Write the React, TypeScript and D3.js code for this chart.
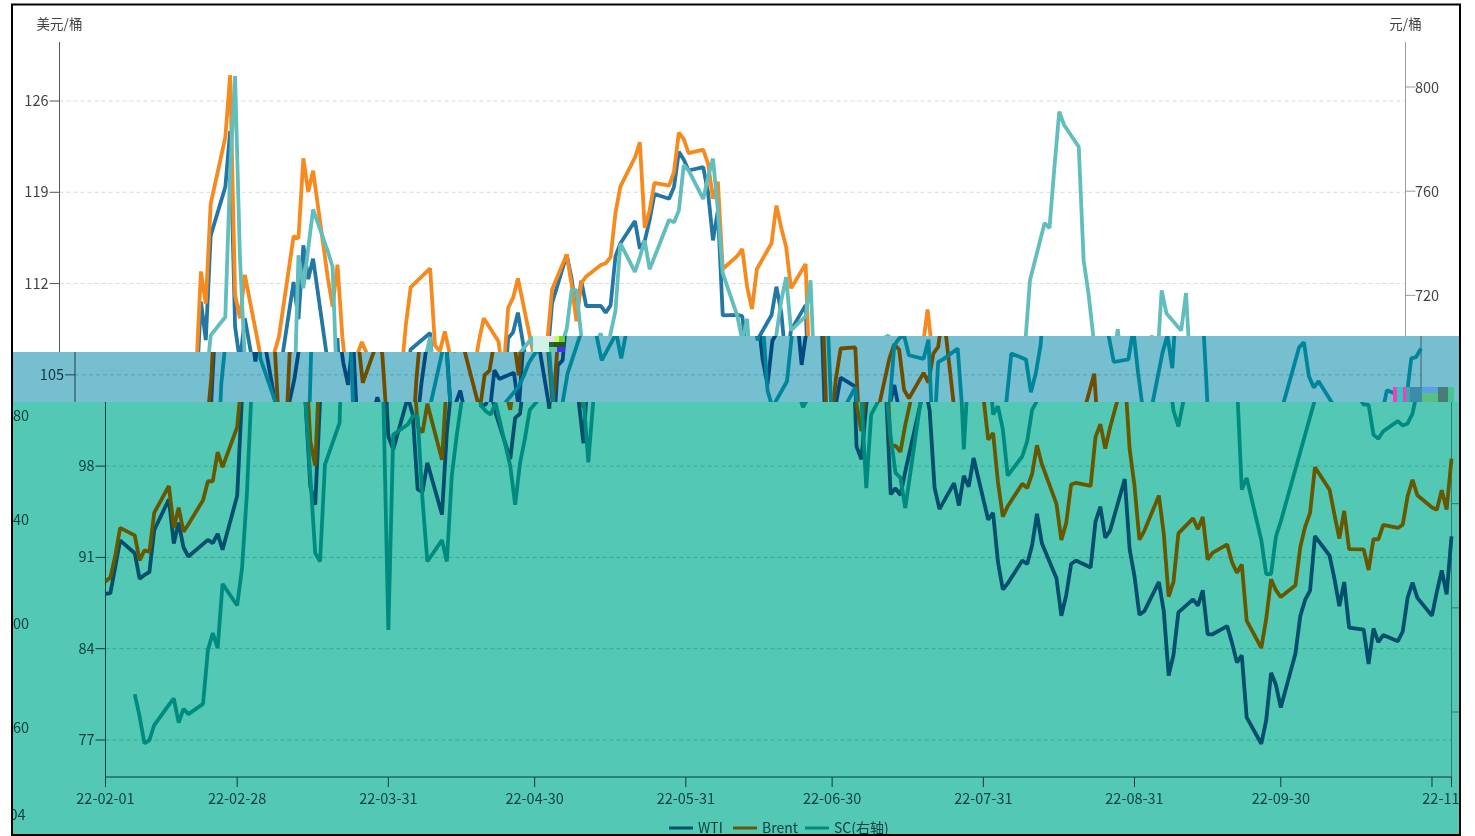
import React from "react";
import * as d3 from "d3";

// Weekday values, Feb 1 2022 - Nov 4 2022, grouped by month. null = no print that day.
const wtiFeb = [88.2,88.26,90.27,92.31, 91.32,89.36,89.66,89.88,93.1, 95.46,92.07,93.66,91.76,91.07, null,92.35,92.1,92.81,91.59, 95.72];
const wtiMar = [103.41,110.6,107.67,115.68, 119.4,123.7,108.7,106.02,109.33, 103.01,96.44,95.04,102.98,104.7, 112.12,109.27,114.93,112.34,113.9, 105.96,104.24,107.82,100.28];
const wtiApr = [99.27, 103.28,101.96,96.23,96.03,98.26, 94.29,100.6,104.25,106.95,null, 108.21,102.56,102.75,103.79,102.07, 98.54,101.7,102.02,105.36,104.69];
const wtiMay = [105.17,102.41,107.81,108.26,109.77, 103.09,99.76,105.71,106.13,110.49, 114.2,112.4,109.59,112.21,110.28, 110.29,109.77,110.33,114.09,115.07, 116.8,114.67];
const wtiJun = [115.26,116.87,118.87, 118.5,119.41,122.11,121.51,120.67, 120.93,118.93,115.31,117.59,109.56, 109.6,109.5,106.19,104.27,107.62, 109.57,111.76,109.78,105.76];
const wtiJul = [108.43, 110.35,99.5,98.53,102.73,104.79, 104.09,95.84,96.3,95.78,97.59, 102.6,104.22,102.26,96.35,94.7, 96.7,94.98,97.26,96.42,98.62];
const wtiAug = [93.89,94.42,90.66,88.54,89.01, 90.76,90.5,91.93,94.34,92.09, 89.41,86.53,88.11,90.5,90.77, 90.23,93.74,94.89,92.52,93.06, 97.01,91.64,89.55];
const wtiSep = [86.61,86.87, 89.12,86.88,81.94,83.54,86.79, 87.78,87.31,88.48,85.1,85.11, 85.73,84.45,82.94,83.49,78.74, 76.71,78.5,82.15,81.23,79.49];
const wtiOct = [83.63,86.52,87.76,88.45,92.64, 91.13,89.35,87.27,89.11,85.61, 85.46,82.82,85.55,84.51,85.05, 84.58,85.32,87.91,89.08,87.9, 86.53];
const wtiNov = [88.37,90,88.17,92.61];

const brentFeb = [89.16,89.47,91.11,93.27, 92.69,90.78,91.55,91.41,94.44, 96.48,93.28,94.81,92.97,93.54, 95.39,96.84,96.84,99.08,97.93, 100.99];
const brentMar = [104.97,112.93,110.46,118.11, 123.21,127.98,111.14,109.33,112.67, 106.9,99.91,98.02,106.64,107.93, 115.62,115.48,121.6,119.03,120.65, 112.48,110.23,113.45,107.91];
const brentApr = [104.39, 107.53,106.64,101.07,100.58,102.78, 98.48,104.64,108.78,111.7,null, 113.16,107.25,106.8,108.33,106.65, 102.32,104.99,105.32,107.59,109.34];
const brentMay = [107.58,104.97,110.14,110.9,112.39, 106.94,102.46,107.51,107.45,111.55, 114.24,111.93,109.11,112.04,112.55, 113.42,113.56,114.03,117.4,119.43, 121.67,122.84];
const brentJun = [116.29,117.61,119.72, 119.51,120.57,123.58,123.07,122.01, 122.27,121.17,118.51,119.81,113.12, 114.13,114.65,111.74,110.05,113.12, 115.09,117.98,116.26,114.81];
const brentJul = [111.63, 113.5,102.77,100.69,104.65,107.02, 107.1,99.49,99.57,99.1,101.16, 106.27,107.35,106.92,103.86,103.2, 105.15,104.4,106.62,107.14,110.01];
const brentAug = [100.03,100.54,96.78,94.12,94.92, 96.65,96.31,97.4,99.6,98.15, 95.1,92.34,93.65,96.59,96.72, 96.48,100.22,101.22,99.34,100.99, 105.09,99.31,96.49];
const brentSep = [92.36,93.02, 95.74,92.83,88,89.15,92.84, 94,93.17,94.1,90.84,91.35, 92,90.62,89.83,90.46,86.15, 84.06,86.27,89.32,88.49,87.96];
const brentOct = [88.86,91.8,93.37,94.42,97.92, 96.19,94.29,92.45,94.57,91.63, 91.62,90.03,92.41,92.38,93.5, 93.26,93.52,95.69,96.96,95.77, 94.83];
const brentNov = [94.65,96.16,94.67,98.57];

const scFeb = [null,null,null,null, 566.9,558.2,547.9,549.2,555, 562.7,565.2,555.9,561.2,559.2, 563.1,583.8,590.3,584.5,609.2, 600.9];
const scMar = [615.3,644,686,704.6, 711.7,768,804.2,734.7,695.8, 679.6,650.5,621,617.8,655, 671,735.4,722.7,738,753, 737,730.9,678.5,591.5];
const scApr = [666.5, 670.4,673.6,673.6,641.5,617.8, 626,617.8,650.5,666,679, 704,677.7,675.5,674.2,678.7, 654.4,639.6,655.6,665,676];
const scMay = [null,685,689,693.8,696.9, 704,681,655.9,679,690, 707,722,722,704,695, 705.4,695.8,705.4,714,740, 729,734.7];
const scJun = [741,730,734.7, 749,748,752.6,770,768, 757,765.5,772.5,752.6,728.5, 712,702.7,711,683.5,677, 687,705,718,727];
const scJul = [706.5, 712,725.8,680,646,674.2, 684.7,665.9,651.8,649.9,638.3, 677.4,700.8,703.5,704.6,697, 695.6,703,660.8,694.4,695.4];
const scAug = [699.6,674.2,677.4,668.5,650.8, 658.2,664,676,679.4,697.7, 695.4,682.8,690,700.8,725.8, 747.8,745.8,769,790.5,785.4, 777,733.5,720.6];
const scSep = [704,694.4, 695.4,707,690,675.7,669.7, 698,704.6,692,721.9,713, 706.5,720.9,686.5,645.4,649.9, 626,613,613,627.4,633.2];
const scOct = [null,null,null,null,null, 700,702,689,684.6,687, 678,678,666.5,664.9,667.8, 671.7,670,670.8,674.6,683.5, 681.5];
const scNov = [680,695.8,696.3,699.6];

const wti = [...wtiFeb,...wtiMar,...wtiApr,...wtiMay,...wtiJun,...wtiJul,...wtiAug,...wtiSep,...wtiOct,...wtiNov];
const brent = [...brentFeb,...brentMar,...brentApr,...brentMay,...brentJun,...brentJul,...brentAug,...brentSep,...brentOct,...brentNov];
const sc = [...scFeb,...scMar,...scApr,...scMay,...scJun,...scJul,...scAug,...scSep,...scOct,...scNov];

const startDate = new Date(Date.UTC(2022, 1, 1));
const endDate = new Date(Date.UTC(2022, 10, 4));
const dates = d3.utcDay.range(startDate, d3.utcDay.offset(endDate, 1)).filter(d => d.getUTCDay() !== 0 && d.getUTCDay() !== 6);

const xTickDates = ["2022-02-01","2022-02-28","2022-03-31","2022-04-30","2022-05-31","2022-06-30","2022-07-31","2022-08-31","2022-09-30","2022-10-31","2022-11-04"].map(s => new Date(s + "T00:00:00Z"));
const xHiddenLabel = "22-10-31";
const leftTicks = [77,84,91,98,105,112,119,126];
const rightTicks = [560,600,640,680,720,760,800];
const legendNames = ["WTI","Brent","SC(右轴)"];

const FONT = '"Noto Sans CJK SC", "Noto Sans", sans-serif';
const W = 1346;
const yLeft = d3.scaleLinear().domain([77, 126]).range([740, 101]);
const yRight = d3.scaleLinear().domain([560, 800]).range([712, 87]);

const fmt = d3.utcFormat("%y-%m-%d");

type Palette = { wti: string; brent: string; sc: string; grid: string; axisL: string; axisR: string; text: string; bg: string };

const topP: Palette = { wti: "#2377A4", brent: "#F68A1E", sc: "#62BDBD", grid: "#DADADA", axisL: "#555555", axisR: "#9A9A9A", text: "#444444", bg: "#FFFFFF" };
const midP: Palette = { wti: "#01497F", brent: "#6F4D00", sc: "#00859A", grid: "#5A9FB4", axisL: "#1C3F4C", axisR: "#3A5F6C", text: "#14323C", bg: "#75BFD0" };
const botP: Palette = { wti: "#024E6D", brent: "#665800", sc: "#008B80", grid: "#38A898", axisL: "#0A3C38", axisR: "#2C7A70", text: "#0C3F3A", bg: "#53C9B5" };

type LayerProps = { dx: number; p: Palette; clip: string; y0: number; y1: number; rightLabels: boolean; unitLabels: boolean; xAxis: boolean };

function Layer({ dx, p, clip, y0, y1, rightLabels, unitLabels, xAxis }: LayerProps) {
  const x = d3.scaleUtc().domain([startDate, endDate]).range([dx, dx + W]);
  const mkLine = (vals: (number | null)[], y: d3.ScaleLinear<number, number>) => {
    const pts = vals.map((v, i) => ({ d: dates[i], v })).filter(o => o.v !== null && o.d) as { d: Date; v: number }[];
    return d3.line<{ d: Date; v: number }>().x(o => x(o.d)).y(o => y(o.v))(pts) || "";
  };
  const inBand = (y: number) => y > y0 && y < y1;
  return (
    <g clipPath={`url(#${clip})`}>
      <rect x={0} y={0} width={1475} height={836} fill={p.bg} />
      {leftTicks.map(t => (
        <line key={t} x1={dx} x2={dx + W} y1={yLeft(t)} y2={yLeft(t)} stroke={p.grid} strokeWidth={1} strokeDasharray="4 3" />
      ))}
      <line x1={dx} x2={dx} y1={42} y2={787} stroke={p.axisL} strokeWidth={1} />
      <line x1={dx + W} x2={dx + W} y1={42} y2={787} stroke={p.axisR} strokeWidth={1} />
      {leftTicks.map(t => (
        <g key={t}>
          <line x1={dx - 10} x2={dx} y1={yLeft(t)} y2={yLeft(t)} stroke={p.axisL} strokeWidth={1} />
          {inBand(yLeft(t)) && (
            <text x={dx - 11} y={yLeft(t) - 1.5} textAnchor="end" dominantBaseline="central" fontSize={14.5} fontFamily={FONT} fill={p.text}>{t}</text>
          )}
        </g>
      ))}
      {rightTicks.map(t => (
        <g key={t}>
          <line x1={dx + W} x2={dx + W + 10} y1={yRight(t)} y2={yRight(t)} stroke={p.axisR} strokeWidth={1} />
          {rightLabels && inBand(yRight(t)) && (
            <text x={dx + W + 9.5} y={yRight(t) - 1} dominantBaseline="central" fontSize={14.5} fontFamily={FONT} fill={p.text}>{t}</text>
          )}
        </g>
      ))}
      {xAxis && <line x1={dx} x2={dx + W} y1={777} y2={777} stroke={p.axisL} strokeWidth={1} />}
      {xAxis && xTickDates.map(d => (
        <g key={+d}>
          <line x1={x(d)} x2={x(d)} y1={777} y2={787} stroke={p.axisL} strokeWidth={1} />
          {fmt(d) !== xHiddenLabel && (
            <text x={x(d)} y={797} textAnchor="middle" dominantBaseline="central" fontSize={14.5} fontFamily={FONT} fill={p.text}>{fmt(d)}</text>
          )}
        </g>
      ))}
      {unitLabels && <text x={dx} y={22.5} textAnchor="middle" dominantBaseline="central" fontSize={13.5} fontFamily={FONT} fill={p.text}>美元/桶</text>}
      {unitLabels && <text x={dx + W} y={22.5} textAnchor="middle" dominantBaseline="central" fontSize={13.5} fontFamily={FONT} fill={p.text}>元/桶</text>}
      <path d={mkLine(wti, yLeft)} fill="none" stroke={p.wti} strokeWidth={3.8} strokeLinejoin="bevel" />
      <path d={mkLine(brent, yLeft)} fill="none" stroke={p.brent} strokeWidth={3.8} strokeLinejoin="bevel" />
      <path d={mkLine(sc, yRight)} fill="none" stroke={p.sc} strokeWidth={3.8} strokeLinejoin="bevel" />
      {xAxis && [
        { n: legendNames[0], c: p.wti, x0: 669, tx: 698 },
        { n: legendNames[1], c: p.brent, x0: 733, tx: 762 },
        { n: legendNames[2], c: p.sc, x0: 805, tx: 834 },
      ].map(l => (
        <g key={l.n}>
          <line x1={l.x0} x2={l.x0 + 24} y1={828} y2={828} stroke={l.c} strokeWidth={3} />
          <text x={l.tx} y={827} dominantBaseline="central" fontSize={14} fontFamily={FONT} fill={p.text}>{l.n}</text>
        </g>
      ))}
    </g>
  );
}

// Corrupted pixel patches
const patches: [number, number, number, number, string][] = [
  [533, 336, 16, 16, "#CFF1E8"], [549, 336, 5, 6, "#F0D8FF"], [554, 336, 5, 6, "#C8FF60"], [559, 336, 6, 6, "#70D030"],
  [549, 342, 5, 5, "#2A6A20"], [554, 342, 11, 5, "#2A5A10"], [549, 347, 8, 5, "#68C8B0"], [557, 347, 8, 5, "#4A30F0"],
  [1393, 387, 4, 15, "#F040C0"], [1397, 387, 6, 15, "#30C8C0"], [1403, 387, 3, 15, "#F040C0"], [1406, 387, 4, 15, "#4AA0B0"],
  [1410, 387, 12, 15, "#3A8CA8"], [1422, 387, 16, 6, "#5A9FE8"], [1422, 393, 16, 9, "#58C080"], [1438, 387, 10, 15, "#4A7A7A"],
  [1448, 387, 6, 15, "#40C890"],
];
const wrapLabels: [string, number, number][] = [["80", 13, 414.5], ["40", 13, 518.5], ["00", 13, 622.5], ["60", 13, 726.5], ["04", 9.5, 813.5]];

export default function App() {
  return (
    <svg width={1475} height={836} style={{ position: "absolute", left: 0, top: 0, background: "#fff", filter: "blur(0.35px)" }}>
      <defs>
        <clipPath id="cTop"><path d="M13 5H1459V336H533V352H13Z" /></clipPath>
        <clipPath id="cMid"><path d="M13 352H533V336H1459V402H13Z" /></clipPath>
        <clipPath id="cBot"><rect x={13} y={402} width={1446} height={432} /></clipPath>
        <clipPath id="cFrame"><rect x={13} y={5} width={1446} height={829} /></clipPath>
      </defs>
      <Layer dx={59.5} p={topP} clip="cTop" y0={0} y1={336} rightLabels={true} unitLabels={true} xAxis={false} />
      <Layer dx={75} p={midP} clip="cMid" y0={352} y1={402} rightLabels={false} unitLabels={false} xAxis={false} />
      <Layer dx={105.5} p={botP} clip="cBot" y0={402} y1={800} rightLabels={false} unitLabels={false} xAxis={true} />
      <g clipPath="url(#cFrame)">
        {patches.map((r, i) => <rect key={i} x={r[0]} y={r[1]} width={r[2]} height={r[3]} fill={r[4]} />)}
        {wrapLabels.map(l => (
          <text key={l[0]} x={l[1]} y={l[2]} dominantBaseline="central" fontSize={14.5} fontFamily={FONT} fill={botP.text}>{l[0]}</text>
        ))}
      </g>
      <rect x={12} y={4.5} width={1448} height={830.5} fill="none" stroke="#000" strokeWidth={2} />
    </svg>
  );
}
